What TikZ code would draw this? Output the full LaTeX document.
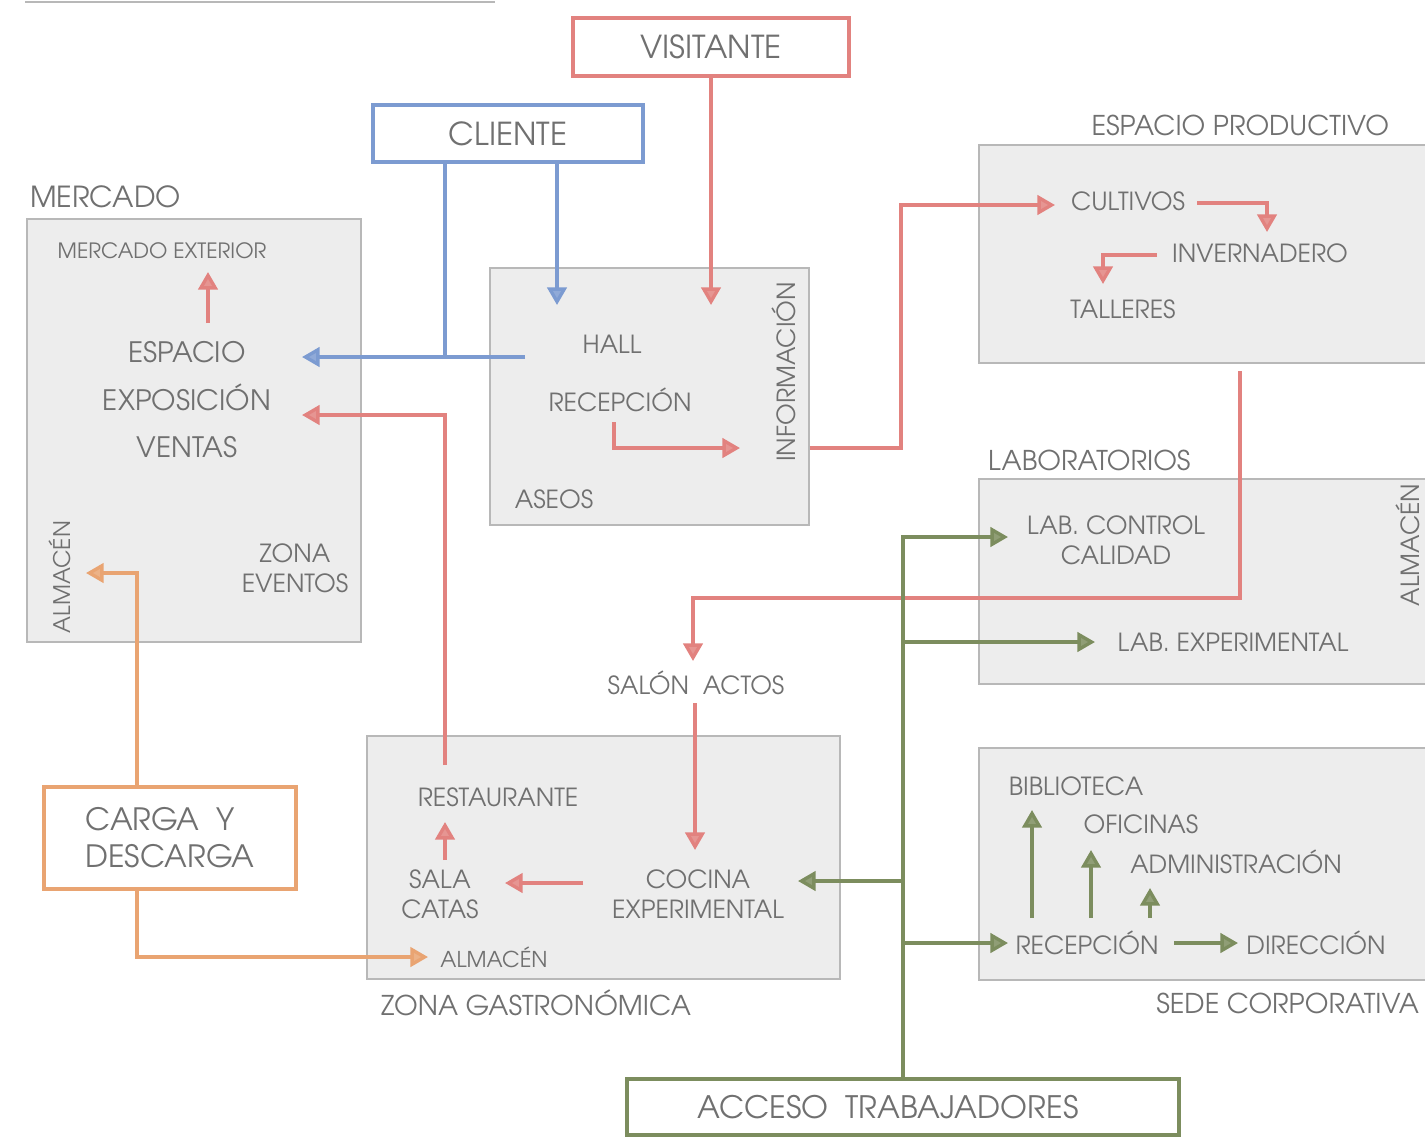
\documentclass[tikz,border=0pt]{standalone}
\usepackage{fontspec}
\setmainfont{TeX Gyre Adventor}
\usetikzlibrary{arrows.meta, positioning}

\definecolor{rojo}{HTML}{E2827F}
\definecolor{azul}{HTML}{7C9BD1}
\definecolor{naranja}{HTML}{E9A472}
\definecolor{verde}{HTML}{7C8D5E}
\definecolor{texto}{HTML}{707070}
\definecolor{gris}{HTML}{EDEDED}
\definecolor{borde}{HTML}{B8B8B8}

\begin{document}
\begin{tikzpicture}[x=0.02cm, y=-0.02cm,
    zona/.style={draw=borde, fill=gris, line width=0.8pt, inner sep=0pt},
    caja/.style={draw=#1, fill=white, line width=1.9pt, text=texto, font=\fontsize{18}{22}\selectfont, align=center},
    titulo/.style={text=texto, font=\fontsize{15.5}{18}\selectfont, inner sep=1pt},
    txt/.style={text=texto, font=\fontsize{16}{27}\selectfont, align=center, inner sep=1pt},
    chico/.style={text=texto, font=\fontsize{14.2}{17}\selectfont, align=center, inner sep=1pt},
    flecha/.style={draw=#1, line width=1.9pt, -{Triangle[length=10pt, width=11pt, fill=#1!85!white]}},
    linea/.style={draw=#1, line width=1.9pt}]
  \useasboundingbox (0,0) rectangle (1425,1136);
  \draw[borde, line width=1pt] (25,2) -- (495,2);

  % zonas
  \node[zona, minimum width=6.68cm, minimum height=8.46cm] (mercado) at (194,430.5) {};
  \node[zona, minimum width=6.38cm, minimum height=5.14cm] (hallzona) at (649.5,396.5) {};
  \node[zona, minimum width=9.2cm, minimum height=4.36cm] (productivo) at (1209,254) {};
  \node[zona, minimum width=9.2cm, minimum height=4.1cm] (labs) at (1209,581.5) {};
  \node[zona, minimum width=9.2cm, minimum height=4.64cm] (sede) at (1209,864) {};
  \node[zona, minimum width=9.46cm, minimum height=4.86cm] (gastro) at (603.5,857.5) {};

  % accesos
  \node[caja=rojo, minimum width=5.52cm, minimum height=1.16cm] (visitante) at (711,47) {VISITANTE};
  \node[caja=azul, minimum width=5.4cm, minimum height=1.14cm] (cliente) at (508,133.5) {CLIENTE};
  \node[caja=naranja, minimum width=5.04cm, minimum height=2.04cm, align=left, font=\fontsize{17.5}{21}\selectfont] (carga) at (170,838) {CARGA\ \ Y\\DESCARGA};
  \node[caja=verde, minimum width=11.04cm, minimum height=1.12cm, font=\fontsize{17.6}{21}\selectfont] (acceso) at (903,1107) {ACCESO\ \ TRABAJADORES\hspace{0.6cm}};

  % titulos de zona
  \node[titulo, anchor=west, font=\fontsize{16.5}{19}\selectfont] (tmercado) at (28,197) {MERCADO};
  \node[titulo, anchor=east] (tproductivo) at (1391,125) {ESPACIO PRODUCTIVO};
  \node[titulo, anchor=west] (tlabs) at (986,460) {LABORATORIOS};
  \node[titulo] (tgastro) at (536,1003) {ZONA GASTRONÓMICA};
  \node[titulo, anchor=east] (tsede) at (1421,1003) {SEDE CORPORATIVA};

  % mercado
  \node[chico, font=\fontsize{12}{14}\selectfont] (exterior) at (162,251) {MERCADO EXTERIOR};
  \node[txt] (exposicion) at (187,400) {ESPACIO\\EXPOSICIÓN\\VENTAS};
  \node[chico, rotate=90, font=\fontsize{13}{15}\selectfont] (almercado) at (60,577) {ALMACÉN};
  \node[chico] (eventos) at (295,568) {ZONA\\EVENTOS};

  % hall
  \node[chico] (hall) at (612,344) {HALL};
  \node[chico] (recepcion) at (620,400) {RECEPCIÓN};
  \node[chico] (aseos) at (554,499) {ASEOS};
  \node[chico, rotate=90] (informacion) at (784,372) {INFORMACIÓN};

  % espacio productivo
  \node[chico] (cultivos) at (1128,201) {CULTIVOS};
  \node[chico] (invernadero) at (1260,253) {INVERNADERO};
  \node[chico] (talleres) at (1123,309) {TALLERES};

  % laboratorios
  \node[chico] (control) at (1116,540) {LAB. CONTROL\\CALIDAD};
  \node[chico] (experimental) at (1233,642) {LAB. EXPERIMENTAL};
  \node[chico, rotate=90] (allabs) at (1408,545) {ALMACÉN};

  % gastronomia
  \node[chico] (salon) at (696,683) {SALÓN\ \ ACTOS};
  \node[chico] (restaurante) at (498,797) {RESTAURANTE};
  \node[chico] (catas) at (440,894) {SALA\\CATAS};
  \node[chico] (cocina) at (698,894) {COCINA\\EXPERIMENTAL};
  \node[chico, font=\fontsize{12.4}{14}\selectfont] (algastro) at (494,957) {ALMACÉN};

  % sede
  \node[chico] (biblioteca) at (1076,786) {BIBLIOTECA};
  \node[chico] (oficinas) at (1141,824) {OFICINAS};
  \node[chico] (admin) at (1236,862) {ADMINISTRACIÓN};
  \node[chico] (recsede) at (1087,943) {RECEPCIÓN};
  \node[chico] (direccion) at (1316,943) {DIRECCIÓN};

  % puntos de paso
  \coordinate (p1) at (901,448);
  \coordinate (p2) at (1240,371);
  \coordinate (p3) at (1240,598);
  \coordinate (p4) at (445,415);
  \coordinate (p5) at (137,573);
  \coordinate (p6) at (137,957);
  \coordinate (p7) at (903,537);
  \coordinate (p8) at (445,357);
  \coordinate (p9) at (614,448);

  % visitante
  \draw[flecha=rojo] (visitante.south) -- (711,305);
  \draw[flecha=rojo] (614,422) -- (p9) -- (740,448);
  \draw[flecha=rojo] (hallzona.east |- p1) -- (p1) |- (1055,205);
  \draw[flecha=rojo] (1197,203) -| (1267,232);
  \draw[flecha=rojo] (1157,255) -| (1103,284);
  \draw[flecha=rojo] (p2) -- (p3) -| (693,661);
  \draw[flecha=rojo] (695,703) -- (695,850);
  \draw[flecha=rojo] (583,883) -- (505,883);
  \draw[flecha=rojo] (445,860) -- (445,822);
  \draw[flecha=rojo] (445,765) -- (p4) -- (302,415);
  \draw[flecha=rojo] (208,323) -- (208,272);

  % cliente
  \draw[linea=azul] (cliente.south -| p8) -- (p8);
  \draw[flecha=azul] (525,357) -- (302,357);
  \draw[flecha=azul] (557,162) -- (557,305);

  % carga y descarga
  \draw[flecha=naranja] (carga.north -| p5) -- (p5) -- (86,573);
  \draw[flecha=naranja] (carga.south -| p6) -- (p6) -- (428,957);

  % trabajadores
  \draw[flecha=verde] (acceso.north) -- (p7) -- (1008,537);
  \draw[flecha=verde] (903,642) -- (1095,642);
  \draw[flecha=verde] (903,881) -- (798,881);
  \draw[flecha=verde] (903,943) -- (1008,943);
  \draw[flecha=verde] (1174,943) -- (1238,943);
  \draw[flecha=verde] (1032,918) -- (1032,810);
  \draw[flecha=verde] (1091,918) -- (1091,850);
  \draw[flecha=verde] (1150,918) -- (1150,888);
\end{tikzpicture}
\end{document}
